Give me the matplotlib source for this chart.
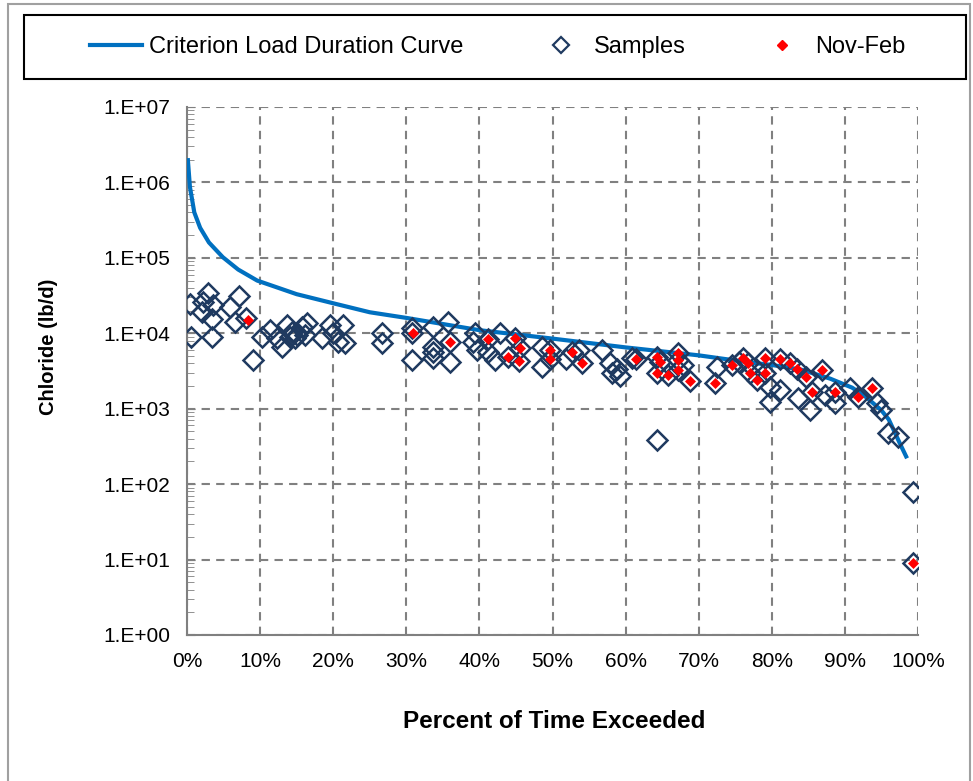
import matplotlib.pyplot as plt
from matplotlib.lines import Line2D
from matplotlib.patches import Rectangle
import numpy as np

plt.rcParams['font.family'] = ['Liberation Sans', 'DejaVu Sans']

# Criterion load duration curve (percent exceeded, lb/d)
curva_x = [0.1, 0.4, 1.0, 1.8, 3.0, 4.9, 7.0, 9.6, 15, 20, 25, 30, 40, 50,
           60, 70, 77, 80, 84, 88, 91, 93, 95, 96, 97.5, 98.5]
curva_y = [2.1e6, 8.7e5, 4.0e5, 2.5e5, 1.6e5, 1.02e5, 7.0e4, 5.0e4, 3.3e4,
           2.5e4, 1.9e4, 1.6e4, 1.1e4, 8.5e3, 6.5e3, 5.1e3, 4.1e3, 3.8e3,
           3.3e3, 2.5e3, 1.9e3, 1.4e3, 950, 720, 350, 220]

# muestras (todas)
muestras_x = [0.4, 0.5, 2.1, 2.2, 2.9, 3.4, 3.4, 3.6, 5.9, 6.6, 7.1, 8.1, 9.0,
              10.3, 11.4, 12.3, 13.0, 13.7, 14.1, 14.4, 14.8, 15.0, 15.7,
              16.1, 16.4, 18.5, 19.6, 20.0, 20.7, 21.3, 21.6,
              26.7, 26.7, 30.8, 30.8, 30.8, 33.7, 33.7, 33.7, 33.7, 35.7,
              36.0, 36.0, 39.1, 39.4, 39.7, 41.2, 41.2, 42.1, 42.8, 43.9,
              44.9, 45.4, 45.6, 48.6, 48.6, 49.7, 49.7, 51.8, 52.7, 53.6,
              54.0, 56.8, 57.9, 58.1, 58.8, 59.2, 60.9, 61.4, 64.3, 64.3,
              64.3, 64.7, 65.8, 67.2, 67.2, 67.2, 67.9, 68.8, 72.2, 72.5,
              74.6, 75.5, 76.1, 76.7, 77.0, 78.0, 79.1, 79.1, 79.8, 79.8,
              81.1, 81.1, 82.5, 83.4, 83.6, 84.7, 85.2, 85.5, 86.9, 87.3,
              88.6, 88.6, 90.7, 91.8, 93.7, 94.4, 95.0, 95.9, 97.3, 99.3, 99.3]
muestras_y = [24400, 9000, 19000, 26000, 34200, 15500, 9000, 23600, 22000,
              14000, 31000, 16000, 4400,
              8900, 11000, 8700, 6600, 13000, 9000, 10500, 8700, 9500, 12000,
              9500, 13500, 8700, 12900, 10100, 7700, 13000, 7500,
              10100, 7500, 11700, 10100, 4400, 12000, 6600, 5600, 4700, 14000,
              7700, 4200, 7700, 10100, 6000, 8500, 5600, 4400, 10100, 4900,
              8700, 4300, 6400, 6600, 3600, 6000, 4600, 4600, 5600, 6000,
              4000, 6000, 4000, 3000, 3400, 2700, 4700, 4600, 4900, 3000,
              385, 4200, 2800, 5500, 4400, 3300, 3800, 2300, 2200, 3600,
              3800, 4200, 4700, 4000, 3000, 2400, 4700, 3000, 1950, 1230,
              4600, 1750, 4000, 3400, 1400, 2650, 960, 1650, 3300, 1500,
              1650, 1190, 1900, 1450, 1900, 1190, 960, 470, 420, 78, 9]

# muestras de noviembre a febrero
invierno_x = [8.3, 30.9, 36.0, 41.2, 43.9, 44.9, 45.4, 45.6, 49.7, 49.7,
              52.7, 54.0, 61.4, 64.3, 64.3, 64.7, 65.8, 67.2, 67.2, 67.2,
              68.8, 72.2, 74.6, 76.1, 76.7, 77.0, 78.0, 79.1, 79.1, 81.1,
              82.5, 83.4, 84.7, 85.5, 86.9, 88.6, 91.8, 93.7, 99.3]
invierno_y = [15000, 10100, 7700, 8500, 4900, 8700, 4300, 6400, 6000, 4600,
              5600, 4000, 4600, 4900, 3000, 4200, 2800, 5500, 4400, 3300,
              2300, 2200, 3800, 4700, 4000, 3000, 2400, 4700, 3000, 4600,
              4000, 3400, 2650, 1650, 3300, 1650, 1450, 1900, 9]

azul = '#0070C0'
marino = '#1F3A60'
gris = '#808080'

fig = plt.figure(figsize=(9.73, 7.81), dpi=100)
ax = fig.add_axes([187/973, 1-635/781, (918-187)/973, (635-107)/781])

ax.plot(np.array(curva_x)/100, curva_y, color=azul, lw=3, zorder=3,
        solid_capstyle='butt')
ax.plot(np.array(muestras_x)/100, muestras_y, ls='none', marker='D', ms=10,
        mfc='none', mec=marino, mew=1.8, zorder=4)
ax.plot(np.array(invierno_x)/100, invierno_y, ls='none', marker='D', ms=5.5,
        mfc='red', mec='red', mew=0.5, zorder=5)

ax.set_yscale('log')
ax.set_ylim(1, 1e7)
ax.set_xlim(0, 1)
ax.set_xticks(np.arange(0, 1.01, 0.1))
ax.set_xticklabels([f'{i*10}%' for i in range(11)])
ax.set_yticks([10.0**k for k in range(8)])
ax.set_yticklabels([f'1.E+{k:02d}' for k in range(8)])

ax.grid(True, which='major', ls=(0, (4, 3)), color=gris, lw=1.5)
for lado in ['top', 'right']:
    ax.spines[lado].set_visible(False)
for lado in ['left', 'bottom']:
    ax.spines[lado].set_color(gris)
    ax.spines[lado].set_linewidth(1.5)
ax.tick_params(axis='y', which='major', direction='in', length=6, color=gris,
               labelsize=15, pad=12)
ax.tick_params(axis='y', which='minor', direction='in', length=5, color=gris)
ax.tick_params(axis='x', direction='in', length=0, labelsize=15, pad=12)

fig.text(554/973, 1-721/781, 'Percent of Time Exceeded', ha='center',
         va='center', fontsize=17.5, fontweight='bold')
fig.text(48/973, 1-347/781, 'Chloride (lb/d)', ha='center', va='center',
         rotation=90, fontsize=14.5, fontweight='bold')

# recuadro exterior y recuadro de leyenda
fig.patches.append(Rectangle((8/973, -0.1), 962/973, 1.1-4/781,
                             transform=fig.transFigure, fill=False,
                             ec='#A0A0A0', lw=1.5))
fig.patches.append(Rectangle((24/973, 1-79/781), 942/973, 64/781,
                             transform=fig.transFigure, fill=False,
                             ec='black', lw=1.5))

manijas = [Line2D([], [], color=azul, lw=3),
           Line2D([], [], ls='none', marker='D', ms=8.5, mfc='none', mec=marino,
                  mew=1.6),
           Line2D([], [], ls='none', marker='D', ms=5, mfc='red', mec='red')]
fig.legend(manijas, ['Criterion Load Duration Curve', 'Samples', 'Nov-Feb'],
           loc='center', bbox_to_anchor=(498/973, 1-47/781), ncol=3,
           frameon=False, fontsize=17, handlelength=2.2, handletextpad=0.3,
           columnspacing=3)

fig.savefig('out.png', dpi=100)
